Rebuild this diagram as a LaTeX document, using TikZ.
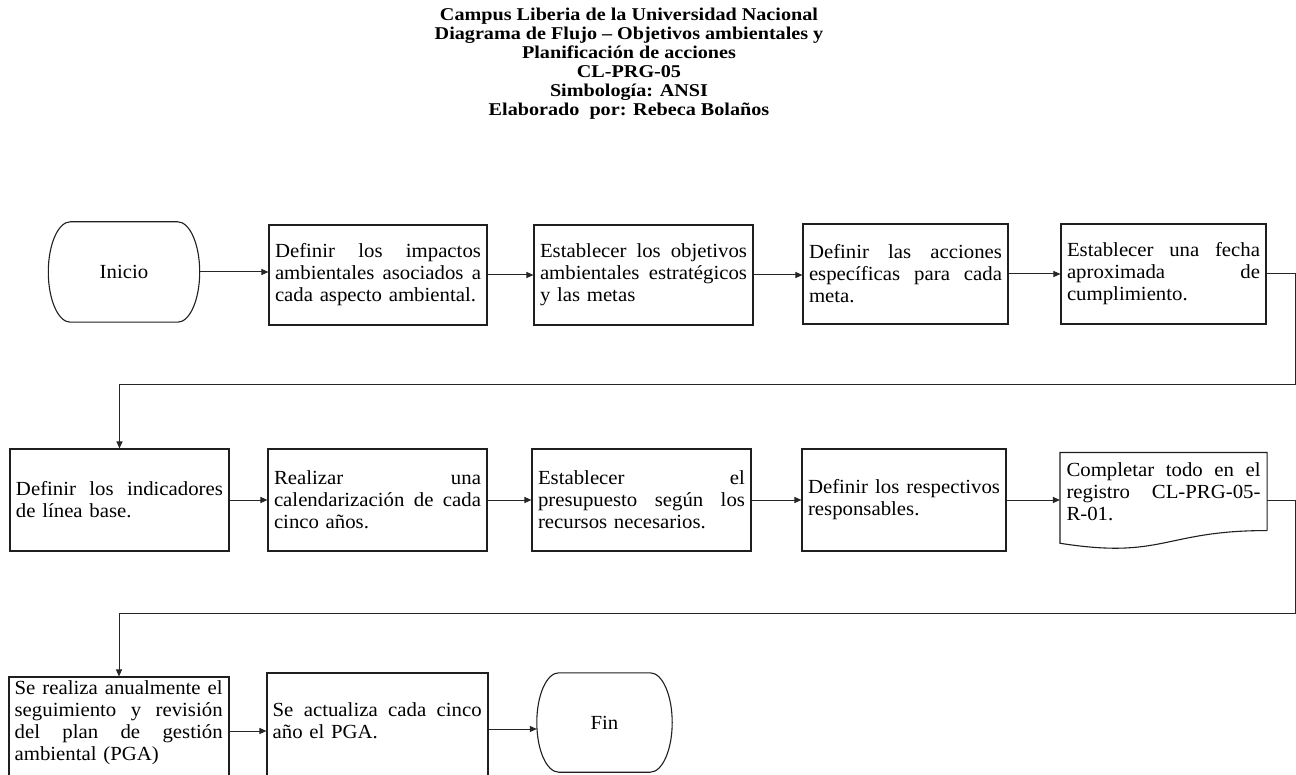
\documentclass[tikz,border=0pt]{standalone}
\usepackage{fontspec}
\setmainfont{Liberation Serif}[FakeStretch=1.04]
\newfontfamily\titlefont{Liberation Serif}[FakeStretch=1.12]
\usetikzlibrary{arrows.meta,calc}

% width of the justified lines in the current box
\newlength{\jlw}
% one justified line: the spaces share the free width
\newcommand{\jl}[1]{\makebox[\jlw][s]{\spaceskip=0.25em plus 1fil\relax\xspaceskip=\spaceskip #1}}

% outline of a terminator: straight top and bottom, elliptic sides
\newcommand{\termoutline}[1]{%
  \draw[link] ($(#1.north west)+(22,0)$) -- ($(#1.north east)+(-22,0)$)
    .. controls ($(#1.north east)+(-9.9,0)$) and ($(#1.east)+(0,-27.6)$) .. (#1.east)
    .. controls ($(#1.east)+(0,27.6)$) and ($(#1.south east)+(-9.9,0)$) .. ($(#1.south east)+(-22,0)$)
    -- ($(#1.south west)+(22,0)$)
    .. controls ($(#1.south west)+(9.9,0)$) and ($(#1.west)+(0,27.6)$) .. (#1.west)
    .. controls ($(#1.west)+(0,-27.6)$) and ($(#1.north west)+(9.9,0)$) .. cycle;}

\begin{document}
\begin{tikzpicture}[x=1pt,y=-1pt,
  every node/.style={font=\fontsize{20}{22}\selectfont},
  jw/.style={text width=#1, execute at begin node={\setlength{\jlw}{#1}}},
  proc/.style={draw=black!88, line width=1.1pt, inner xsep=6pt, inner ysep=0pt, align=left},
  txt/.style={inner sep=0pt, align=left, anchor=base west},
  term/.style={inner sep=0pt},
  flow/.style={draw=black!85, line width=1pt, -{Triangle[length=7pt,width=6pt]}},
  link/.style={draw=black!88, line width=1.1pt},
  heading/.style={font=\titlefont\bfseries\fontsize{18}{19}\selectfont, align=center, inner sep=0pt},
]
\useasboundingbox (0,0) rectangle (1296,775);
\clip (0,0) rectangle (1296,775);
\fill[white] (0,0) rectangle (1296,775);

% heading
\node[heading] (title) at (629,64) {Campus Liberia de la Universidad Nacional\\
  Diagrama de Flujo – Objetivos ambientales y\\
  Planificación de acciones\\
  CL-PRG-05\\
  Simbología: ANSI\\
  Elaborado\ \ por: Rebeca Bolaños};

% first row
\node[term, minimum width=151pt, minimum height=100pt] (inicio) at (124,272) {Inicio};
\termoutline{inicio}
\node[proc, jw=206pt, minimum height=100pt] (b1) at (378,275)
  {\jl{Definir los impactos}\\ \jl{ambientales asociados a}\\ cada aspecto ambiental.};
\node[proc, jw=207pt, minimum height=100pt] (b2) at (643.5,275)
  {\jl{Establecer los objetivos}\\ \jl{ambientales estratégicos}\\ y las metas};
\node[proc, jw=193pt, minimum height=100pt] (b3) at (905.5,274)
  {\jl{Definir las acciones}\\ \jl{específicas para cada}\\ meta.};
\node[proc, jw=193pt, minimum height=100pt] (b4) at (1163.5,274)
  {\jl{Establecer una fecha}\\ \jl{aproximada de}\\ cumplimiento.};

% second row
\node[proc, jw=207pt, minimum height=102pt] (b5) at (119.5,500)
  {\jl{Definir los indicadores}\\ de línea base.};
\node[proc, jw=207pt, minimum height=102pt] (b6) at (377.5,500)
  {\jl{Realizar una}\\ \jl{calendarización de cada}\\ cinco años.};
\node[proc, jw=207pt, minimum height=102pt] (b7) at (641.5,500)
  {\jl{Establecer el}\\ \jl{presupuesto según los}\\ recursos necesarios.};
\node[proc, jw=192pt, minimum height=102pt] (b8) at (904,500)
  {\jl{Definir los respectivos}\\ responsables.};
\node[proc, draw=none, jw=194pt, minimum height=77pt] (doc) at (1163.5,491.5)
  {\jl{Completar todo en el}\\ \jl{registro CL-PRG-05-}\\ R-01.};
\draw[link] (doc.south east) -- (doc.north east) -- (doc.north west)
  -- ($(doc.south west)+(0,12.7)$)
  .. controls ($(doc.south)+(0,29)$) and (doc.south) .. (doc.south east);

% third row
\node[proc, minimum width=220pt, minimum height=108pt] (b9) at (119,731) {};
\node[txt, jw=208pt] (t9) at ([shift={(6pt,-18pt)}]b9.north west)
  {\jl{Se realiza anualmente el}\\ \jl{seguimiento y revisión}\\ \jl{del plan de gestión}\\ ambiental (PGA)};
\node[proc, minimum width=221pt, minimum height=112pt] (b10) at (377.5,729) {};
\node[txt, jw=209pt] (t10) at ([shift={(6pt,-44.5pt)}]b10.north west)
  {\jl{Se actualiza cada cinco}\\ año el PGA.};
\node[term, minimum width=135pt, minimum height=99pt] (fin) at (604.5,722.5) {Fin};
\termoutline{fin}

% connectors
\coordinate (r1) at (1295.5,385);
\coordinate (r2) at (1295.5,613);
\draw[flow] (inicio.east) -- (inicio.east -| b1.west);
\draw[flow] (b1.east) -- (b1.east -| b2.west);
\draw[flow] (b2.east) -- (b2.east -| b3.west);
\draw[flow] (b3.east) -- (b3.east -| b4.west);
\draw[flow] (b4.east) -| (r1) -| (b5.north);
\draw[flow] (b5.east) -- (b5.east -| b6.west);
\draw[flow] (b6.east) -- (b6.east -| b7.west);
\draw[flow] (b7.east) -- (b7.east -| b8.west);
\draw[flow] (b8.east) -- (b8.east -| doc.west);
\draw[flow] ([yshift=-9pt]doc.east) -| (r2) -| (b9.north);
\draw[flow] (b9.east) -- (b9.east -| b10.west);
\draw[flow] (b10.east) -- (b10.east -| fin.west);
\end{tikzpicture}
\end{document}
